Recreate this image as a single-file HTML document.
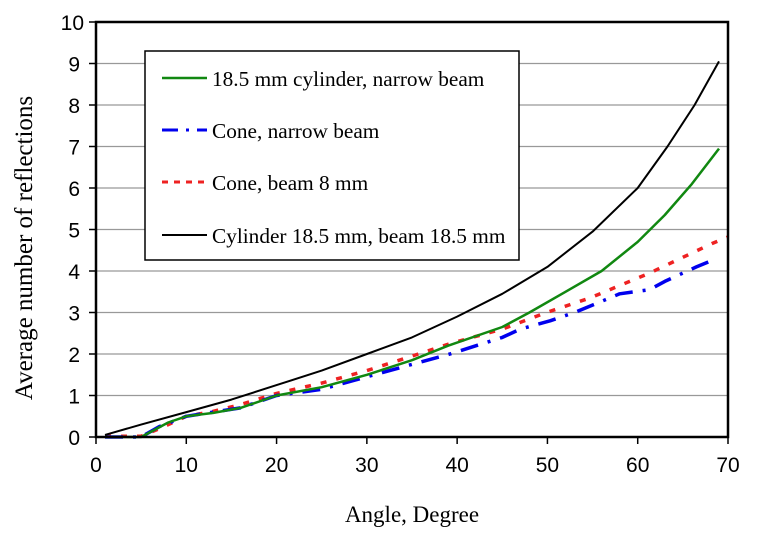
<!DOCTYPE html>
<html><head><meta charset="utf-8"><style>
html,body{margin:0;padding:0;background:#fff;width:768px;height:537px;overflow:hidden}
svg text{font-family:"Liberation Serif",serif}
</style></head><body>
<svg id="chart" width="768" height="537" viewBox="0 0 768 537" xmlns="http://www.w3.org/2000/svg">
<g id="grid"></g>
<g id="series"></g>
<rect x="96" y="22" width="632" height="415" fill="none" stroke="#000" stroke-width="2.5"/>
<g id="axes"></g>
<text x="412" y="522" font-size="23" text-anchor="middle">Angle, Degree</text>
<text transform="translate(32,248) rotate(-90)" font-size="25" text-anchor="middle">Average number of reflections</text>
<g>
<rect x="145" y="51" width="374" height="209" fill="#fff" stroke="#000" stroke-width="1.5"/>
<g><line x1="162" y1="78" x2="207" y2="78" stroke="#118811" stroke-width="2.5"/><text x="212" y="86" font-size="21.3">18.5 mm cylinder, narrow beam</text></g>
<g><line x1="162" y1="130" x2="207" y2="130" stroke="#0000ee" stroke-width="3" stroke-dasharray="16,8,3,8"/><text x="212" y="138" font-size="21.3">Cone, narrow beam</text></g>
<g><line x1="162" y1="182" x2="207" y2="182" stroke="#ee2222" stroke-width="3" stroke-dasharray="6,6"/><text x="212" y="190" font-size="21.3">Cone, beam 8 mm</text></g>
<g><line x1="162" y1="235" x2="207" y2="235" stroke="#000" stroke-width="2"/><text x="212" y="243" font-size="21.3">Cylinder 18.5 mm, beam 18.5 mm</text></g>
</g>
</svg>
<script>
const xTicks=[0,10,20,30,40,50,60,70];
const yTicks=[0,1,2,3,4,5,6,7,8,9,10];
const blackX=[1,5,10,15,20,25,30,35,40,45,50,55,60,63.3,66.3,69];
const blackY=[0.05,0.3,0.6,0.9,1.25,1.6,2.0,2.4,2.9,3.45,4.1,4.95,6.0,7.0,8.0,9.05];
const greenX=[1,5,8,10,13,16,20,25,30,35,39,45,48,52,56,60,63,66,69];
const greenY=[0,0,0.35,0.5,0.58,0.7,1.0,1.2,1.5,1.85,2.2,2.65,3.0,3.5,4.0,4.7,5.35,6.1,6.95];
const redX=[1,5,7,10,13,16,20,25,30,35,39.2,45,49.9,54.7,61.3,68.3,70];
const redY=[0.02,0.02,0.2,0.5,0.62,0.78,1.05,1.3,1.6,1.95,2.25,2.6,3.0,3.35,3.95,4.67,4.82];
const blueX=[1,5,7,10,13,16,20,25,30,35,39.2,45,47,50.3,53,55.8,58,61.3,63,66.5,68.7];
const blueY=[0,0,0.25,0.5,0.6,0.7,1.0,1.15,1.45,1.75,2.0,2.4,2.6,2.8,3.0,3.25,3.45,3.55,3.75,4.1,4.3];
const X=v=>96+v*(632/70), Y=v=>437-v*41.5;
const NS="http://www.w3.org/2000/svg";
const grid=document.getElementById('grid'),axes=document.getElementById('axes'),ser=document.getElementById('series');
function mk(tag,attrs,parent){const e=document.createElementNS(NS,tag);for(const k in attrs)e.setAttribute(k,attrs[k]);parent.appendChild(e);return e;}
yTicks.forEach(t=>{
  if(t>0&&t<10){const g=mk('line',{x1:96,x2:728,y1:Y(t),y2:Y(t),stroke:'#999','stroke-width':1.3},grid);
  
  }
  const tk=mk('line',{x1:89,x2:96,y1:Y(t),y2:Y(t),stroke:'#000','stroke-width':1.5},axes);
  
  
  const tx=mk('text',{x:t==10?84:80,y:Y(t)+8,'font-size':21,'text-anchor':'end',style:'font-family:"Liberation Sans",sans-serif'},axes);
  tx.textContent=t;
  
  
});
xTicks.forEach(t=>{
  const tk=mk('line',{x1:X(t),x2:X(t),y1:437,y2:444,stroke:'#000','stroke-width':1.5},axes);
  
  
  const tx=mk('text',{x:X(t),y:472,'font-size':21,'text-anchor':'middle',style:'font-family:"Liberation Sans",sans-serif'},axes);
  tx.textContent=t;
  
  
});
function line(xs,ys,stroke,w,dash,name){
  const d=xs.map((x,i)=>(i?'L':'M')+X(x).toFixed(1)+','+Y(ys[i]).toFixed(1)).join(' ');
  const p=mk('path',{d:d,fill:'none',stroke:stroke,'stroke-width':w,'stroke-linejoin':'round'},ser);
  if(dash)p.setAttribute('stroke-dasharray',dash);
  
  
}
line(redX,redY,'#ee2222',3.5,'6,10','series-cone-beam-8mm');
line(blueX,blueY,'#0000ee',3.5,'18,10,3,10','series-cone-narrow-beam');
line(greenX,greenY,'#118811',2.5,null,'series-cylinder-narrow-beam');
line(blackX,blackY,'#000',2,null,'series-cylinder-beam-18-5');
</script>
</body></html>
